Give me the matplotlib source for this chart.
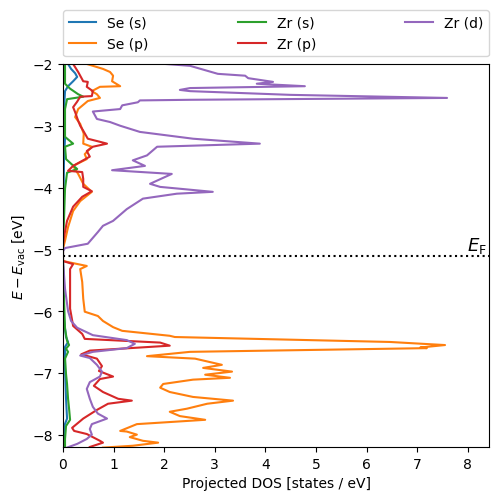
import matplotlib
matplotlib.use("Agg")
import matplotlib.pyplot as plt

fermi_level = -5.11

se_s_energy = [-2.00, -2.08, -2.15, -2.21, -2.28, -2.36, -2.44, -2.73, -3.21, -3.54, -4.83,
               -5.19, -6.13, -6.42, -6.50, -6.58, -6.94, -7.42, -7.74, -7.87, -8.21]
se_s_dos = [0.10, 0.16, 0.24, 0.28, 0.20, 0.10, 0.04, 0.02, 0.04, 0.02, 0.0,
            0.0, 0.02, 0.06, 0.10, 0.04, 0.04, 0.06, 0.08, 0.02, 0.02]

se_p_energy = [-2.00, -2.08, -2.13, -2.19, -2.28, -2.36, -2.37, -2.44, -2.49, -2.55, -2.60,
               -2.73, -2.86, -2.97, -3.13, -3.29, -3.34, -3.46, -3.54, -3.65, -3.78, -3.94,
               -4.07, -4.22, -4.38, -4.64, -4.86, -4.99,
               -5.19, -5.27, -5.32, -5.53, -5.80, -6.01, -6.08, -6.16, -6.26, -6.32, -6.40,
               -6.42, -6.50, -6.53, -6.55, -6.59, -6.60, -6.66, -6.73, -6.77, -6.87, -6.92,
               -6.98, -7.03, -7.08, -7.11, -7.18, -7.24, -7.31, -7.39, -7.45, -7.50, -7.58,
               -7.63, -7.70, -7.76, -7.83, -7.94, -7.95, -8.00, -8.04, -8.10, -8.13, -8.18, -8.21]
se_p_dos = [0.47, 0.79, 0.93, 0.99, 0.97, 1.13, 0.73, 0.57, 0.67, 0.73, 0.49,
            0.30, 0.24, 0.34, 0.41, 0.40, 0.57, 0.43, 0.47, 0.20, 0.30, 0.40,
            0.57, 0.34, 0.20, 0.10, 0.04, 0.0,
            0.0, 0.47, 0.34, 0.38, 0.40, 0.43, 0.69, 0.79, 0.99, 1.17, 2.11,
            2.21, 6.46, 7.11, 7.55, 7.06, 7.19, 2.51, 1.66, 2.61, 3.14, 2.77,
            3.34, 2.81, 3.30, 2.57, 1.98, 1.92, 2.11, 2.57, 3.36, 2.85, 2.45,
            2.11, 2.31, 2.81, 1.46, 1.13, 1.26, 1.46, 1.32, 1.58, 1.88, 1.38, 0.79]

zr_s_energy = [-2.00, -2.32, -2.40, -2.49, -2.53, -2.57, -2.73, -3.18, -3.29, -3.34, -3.54,
               -3.63, -3.70, -3.76, -4.02, -4.51, -4.91,
               -5.19, -5.80, -6.29, -6.48, -6.55, -6.61, -6.66, -6.77, -7.02, -7.18, -7.42,
               -7.58, -7.76, -7.86, -8.07, -8.21]
zr_s_dos = [0.04, 0.04, 0.14, 0.30, 0.40, 0.08, 0.04, 0.04, 0.20, 0.04, 0.06,
            0.18, 0.28, 0.08, 0.04, 0.02, 0.0,
            0.0, 0.02, 0.04, 0.08, 0.12, 0.06, 0.10, 0.04, 0.06, 0.08, 0.10,
            0.12, 0.14, 0.06, 0.04, 0.04]

zr_p_energy = [-2.00, -2.13, -2.28, -2.29, -2.37, -2.44, -2.52, -2.53, -2.61, -2.70, -2.78,
               -2.92, -3.00, -3.08, -3.21, -3.26, -3.29, -3.34, -3.41, -3.50, -3.65, -3.73,
               -3.75, -3.86, -3.99, -4.06, -4.15, -4.31, -4.54, -4.80, -4.95,
               -5.19, -5.24, -5.32, -5.64, -5.96, -6.24, -6.37, -6.45, -6.51, -6.56, -6.64,
               -6.70, -6.77, -6.89, -6.97, -7.06, -7.10, -7.21, -7.31, -7.42, -7.45, -7.50,
               -7.60, -7.74, -7.89, -7.94, -7.99, -8.10, -8.13, -8.20]
zr_p_dos = [0.20, 0.30, 0.40, 0.49, 0.47, 0.59, 0.57, 0.34, 0.28, 0.20, 0.24,
            0.30, 0.34, 0.40, 0.49, 0.73, 0.87, 0.59, 0.47, 0.53, 0.20, 0.10,
            0.38, 0.40, 0.40, 0.57, 0.38, 0.20, 0.08, 0.02, 0.0,
            0.0, 0.20, 0.14, 0.14, 0.14, 0.20, 0.38, 0.43, 1.92, 2.11, 0.53,
            0.36, 0.67, 0.77, 0.71, 0.99, 0.73, 0.61, 0.79, 1.09, 1.36, 0.89,
            0.67, 0.40, 0.18, 0.22, 0.47, 0.73, 0.79, 0.53]

zr_d_energy = [-2.00, -2.03, -2.16, -2.19, -2.23, -2.29, -2.32, -2.36, -2.39, -2.42, -2.44,
               -2.50, -2.55, -2.58, -2.59, -2.62, -2.67, -2.73, -2.77, -2.89, -2.94, -3.00,
               -3.10, -3.21, -3.29, -3.34, -3.48, -3.56, -3.65, -3.72, -3.78, -3.94, -3.99,
               -4.07, -4.10, -4.18, -4.35, -4.54, -4.62, -4.72, -4.91, -4.98, -5.03,
               -5.19, -5.64, -6.00, -6.16, -6.27, -6.39, -6.47, -6.53, -6.60, -6.66, -6.72,
               -6.76, -6.87, -6.98, -7.06, -7.15, -7.26, -7.42, -7.55, -7.66, -7.74, -7.83,
               -7.91, -8.00, -8.07, -8.15, -8.21]
zr_d_dos = [2.02, 2.51, 3.06, 3.60, 3.66, 4.15, 3.83, 4.78, 2.51, 2.31, 2.51,
            4.49, 7.59, 2.51, 1.52, 1.48, 1.17, 1.13, 0.59, 0.67, 0.93, 1.13,
            1.52, 2.57, 3.89, 1.86, 1.66, 1.38, 1.62, 0.97, 2.15, 1.72, 1.92,
            2.96, 2.25, 1.58, 1.26, 0.99, 0.79, 0.69, 0.49, 0.04, 0.0,
            0.0, 0.04, 0.10, 0.16, 0.28, 0.59, 1.26, 1.42, 1.26, 0.59, 0.34,
            0.53, 0.67, 0.77, 0.73, 0.53, 0.47, 0.53, 0.59, 0.69, 0.87, 0.57,
            0.53, 0.57, 0.47, 0.28, 0.08]

series = [
    ("Se (s)", se_s_dos, se_s_energy, "tab:blue"),
    ("Se (p)", se_p_dos, se_p_energy, "tab:orange"),
    ("Zr (s)", zr_s_dos, zr_s_energy, "tab:green"),
    ("Zr (p)", zr_p_dos, zr_p_energy, "tab:red"),
    ("Zr (d)", zr_d_dos, zr_d_energy, "tab:purple"),
]

fig = plt.figure(figsize=(4.98, 5.02), dpi=100)
ax = fig.add_axes([0.1265, 0.1076, 0.8555, 0.763])

for label, dos, en, col in series:
    ax.plot(dos, en, color=col, lw=1.5, label=label)

ax.axhline(fermi_level, color="black", ls=":", lw=1.5)
ax.text(8.38, fermi_level + 0.02, r"$E_\mathrm{F}$", ha="right", va="bottom", fontsize=13)

ax.set_xlim(0, 8.42)
ax.set_ylim(-8.2, -2.0)
ax.set_xticks(range(0, 9))
ax.set_yticks([-8, -7, -6, -5, -4, -3, -2])
ax.set_xlabel("Projected DOS [states / eV]")
ax.set_ylabel(r"$E - E_\mathrm{vac}$ [eV]")

ax.legend(loc="lower left", bbox_to_anchor=(0, 1.02, 1, 0.2), mode="expand",
          ncol=3, borderaxespad=0)

fig.savefig("out.png", dpi=100)
